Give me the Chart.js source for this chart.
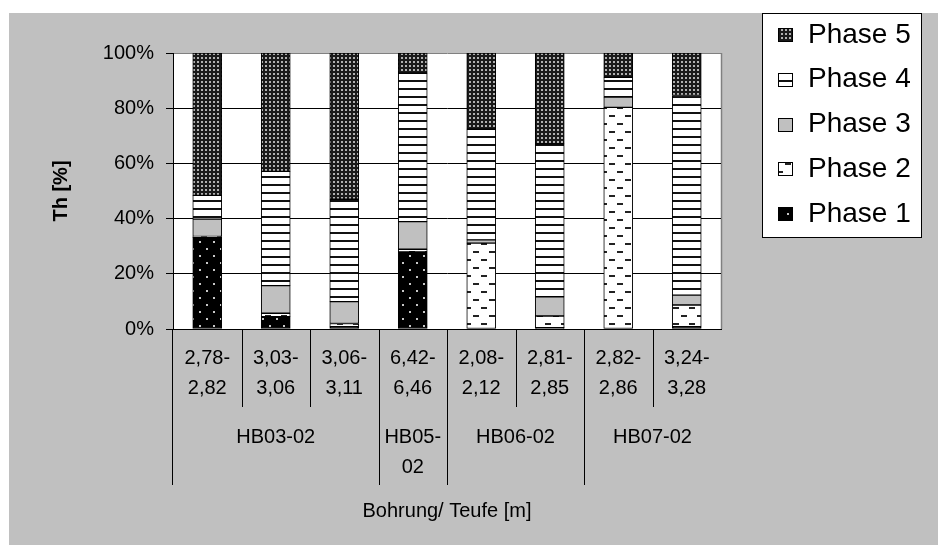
<!DOCTYPE html>
<html>
<head>
<meta charset="utf-8">
<script src="https://cdn.jsdelivr.net/npm/chart.js@4/dist/chart.umd.min.js"></script>
<style>
  html, body { margin: 0; padding: 0; background: #fff; }
  canvas { display: block; }
</style>
</head>
<body>
<canvas id="c" width="938" height="545"></canvas>
<script>
// Depth intervals (m) per sample, two text lines each
const depths = [
  ['2,78-', '2,82'], ['3,03-', '3,06'], ['3,06-', '3,11'], ['6,42-', '6,46'],
  ['2,08-', '2,12'], ['2,81-', '2,85'], ['2,82-', '2,86'], ['3,24-', '3,28']
];
// Boreholes and how many samples each one covers
const boreholes = [['HB03-02'], ['HB05-', '02'], ['HB06-02'], ['HB07-02']];
const boreholeSpan = [3, 1, 2, 2];

const phaseNames = ['Phase 1', 'Phase 2', 'Phase 3', 'Phase 4', 'Phase 5'];
// Share of Th in each phase (%)
const phase1 = [33.2, 4.5, 0.8, 27.9, 0.0, 0.5, 0.0, 0.8];
const phase2 = [0.3, 1.2, 1.2, 1.0, 31.1, 4.2, 80.3, 7.9];
const phase3 = [6.3, 10.0, 7.9, 10.0, 1.2, 7.0, 3.7, 3.6];
const phase4 = [8.6, 41.4, 37.1, 53.8, 40.1, 55.4, 7.2, 72.3];
const phase5 = [51.6, 42.9, 53.0, 7.3, 27.6, 32.9, 8.8, 15.4];

const yMax = 100;
const yStep = 20;
const yTitle = 'Th [%]';
const xTitle = 'Bohrung/ Teufe [m]';

const FONT = "'Liberation Sans', Arial, sans-serif";
Chart.defaults.font.family = FONT;
Chart.defaults.color = '#000';

const canvas = document.getElementById('c');
const ctx = canvas.getContext('2d');

// Fill patterns for the phases
function tile(w, h, draw) {
  const c = document.createElement('canvas');
  c.width = w; c.height = h;
  draw(c.getContext('2d'));
  return ctx.createPattern(c, 'repeat');
}
const fillPhase1 = tile(14, 14, g => {
  g.fillStyle = '#000'; g.fillRect(0, 0, 14, 14);
  g.fillStyle = '#c8c8c8'; g.fillRect(3, 3, 2, 2); g.fillRect(10, 10, 2, 2);
});
const fillPhase2 = tile(16, 16, g => {
  g.fillStyle = '#fff'; g.fillRect(0, 0, 16, 16);
  g.fillStyle = '#222'; g.fillRect(1, 3, 6, 2); g.fillRect(9, 11, 6, 2);
});
const fillPhase3 = '#c0c0c0';
const fillPhase4 = tile(8, 8, g => {
  g.fillStyle = '#fff'; g.fillRect(0, 0, 8, 8);
  g.fillStyle = '#111'; g.fillRect(0, 0, 8, 2);
});
const fillPhase5 = tile(4, 4, g => {
  g.fillStyle = '#1a1a1a'; g.fillRect(0, 0, 4, 4);
  g.fillStyle = '#b0b0b0'; g.fillRect(1, 1, 2, 2);
});
const phaseFills = [fillPhase1, fillPhase2, fillPhase3, fillPhase4, fillPhase5];
const phaseData = [phase1, phase2, phase3, phase4, phase5];

const decor = {
  id: 'decor',
  beforeDraw(chart) {
    const { ctx: g, chartArea: a } = chart;
    g.save();
    g.fillStyle = '#fff';
    g.fillRect(0, 0, chart.width, chart.height);
    g.fillStyle = '#c0c0c0';
    g.fillRect(9, 13, chart.width - 9, chart.height - 13);
    g.fillStyle = '#fff';
    g.fillRect(a.left, a.top, a.right - a.left, a.bottom - a.top);
    g.strokeStyle = '#808080';
    g.lineWidth = 1.5;
    g.beginPath();
    g.moveTo(Math.round(a.right) + 0.5, a.top);
    g.lineTo(Math.round(a.right) + 0.5, a.bottom);
    g.stroke();
    g.restore();
  },
  afterDraw(chart) {
    const { ctx: g, chartArea: a } = chart;
    const xs = chart.scales.x;
    const n = depths.length;
    const half = (xs.getPixelForValue(1) - xs.getPixelForValue(0)) / 2;
    const boundary = i => xs.getPixelForValue(i) - half;
    const crisp = v => Math.round(v) + 0.5;

    g.save();
    g.strokeStyle = '#000';
    g.lineWidth = 1;

    // group boundaries (start index of every borehole)
    const groupStarts = [];
    let acc = 0;
    boreholeSpan.forEach(s => { groupStarts.push(acc); acc += s; });

    const sampleLineEnd = 407;
    const groupLineEnd = 485;

    g.beginPath();
    // axis line continued through the label rows
    g.moveTo(crisp(a.left) - 1, a.bottom);
    g.lineTo(crisp(a.left) - 1, groupLineEnd);
    for (let i = 1; i < n; i++) {
      const x = crisp(boundary(i));
      const end = groupStarts.includes(i) ? groupLineEnd : sampleLineEnd;
      g.moveTo(x, a.bottom);
      g.lineTo(x, end);
    }
    g.stroke();

    // borehole names
    g.fillStyle = '#000';
    g.font = '20px ' + FONT;
    g.textAlign = 'center';
    g.textBaseline = 'middle';
    boreholes.forEach((lines, k) => {
      const first = groupStarts[k];
      const last = first + boreholeSpan[k] - 1;
      const cx = (xs.getPixelForValue(first) + xs.getPixelForValue(last)) / 2;
      lines.forEach((t, j) => g.fillText(t, cx, 437 + j * 30));
    });

    // axis titles
    g.fillText(xTitle, (a.left + a.right) / 2, 511);
    g.save();
    g.translate(61, (a.top + a.bottom) / 2);
    g.rotate(-Math.PI / 2);
    g.font = 'bold 20px ' + FONT;
    g.fillText(yTitle, 0, 0);
    g.restore();

    // legend
    const lx = 762, ly = 13, lw = 159, lh = 224;
    g.fillStyle = '#fff';
    g.fillRect(lx, ly, lw, lh);
    g.strokeStyle = '#000';
    g.strokeRect(lx + 0.5, ly + 0.5, lw, lh);
    g.font = '28px ' + FONT;
    g.textAlign = 'left';
    for (let k = 0; k < phaseNames.length; k++) {
      const idx = phaseNames.length - 1 - k;
      const cy = 35 + k * 44.75;
      g.fillStyle = phaseFills[idx];
      g.fillRect(778, Math.round(cy - 7), 15, 14);
      g.strokeStyle = '#000';
      g.strokeRect(778.5, Math.round(cy - 7) + 0.5, 14, 13);
      g.fillStyle = '#000';
      g.fillText(phaseNames[idx], 808, cy);
    }
    g.restore();
  }
};

new Chart(ctx, {
  type: 'bar',
  data: {
    labels: depths,
    datasets: phaseData.map((d, i) => ({
      label: phaseNames[i],
      data: d,
      backgroundColor: phaseFills[i],
      borderColor: '#000',
      borderWidth: 1,
      borderSkipped: false,
      barThickness: 29
    }))
  },
  options: {
    responsive: false,
    animation: false,
    devicePixelRatio: 1,
    layout: { padding: { left: 0, top: 53, right: 217, bottom: 0 } },
    plugins: { legend: { display: false }, tooltip: { enabled: false } },
    scales: {
      x: {
        stacked: true,
        grid: { display: false },
        border: { display: true, color: '#000', width: 1 },
        ticks: {
          autoSkip: false, maxRotation: 0, minRotation: 0,
          color: '#000', padding: 6,
          font: { family: FONT, size: 20, lineHeight: 1.5 }
        },
        afterFit(s) { s.height = 216; }
      },
      y: {
        stacked: true,
        min: 0, max: yMax,
        ticks: {
          stepSize: yStep, color: '#000', padding: 12,
          font: { family: FONT, size: 20 },
          callback: v => v + '%'
        },
        grid: {
          color: c => (c.tick && c.tick.value === yMax) ? '#808080' : '#000',
          tickColor: '#000', tickLength: 7, lineWidth: 1
        },
        border: { color: '#000', width: 1 },
        afterFit(s) { s.width = 173; }
      }
    }
  },
  plugins: [decor]
});
</script>
</body>
</html>
